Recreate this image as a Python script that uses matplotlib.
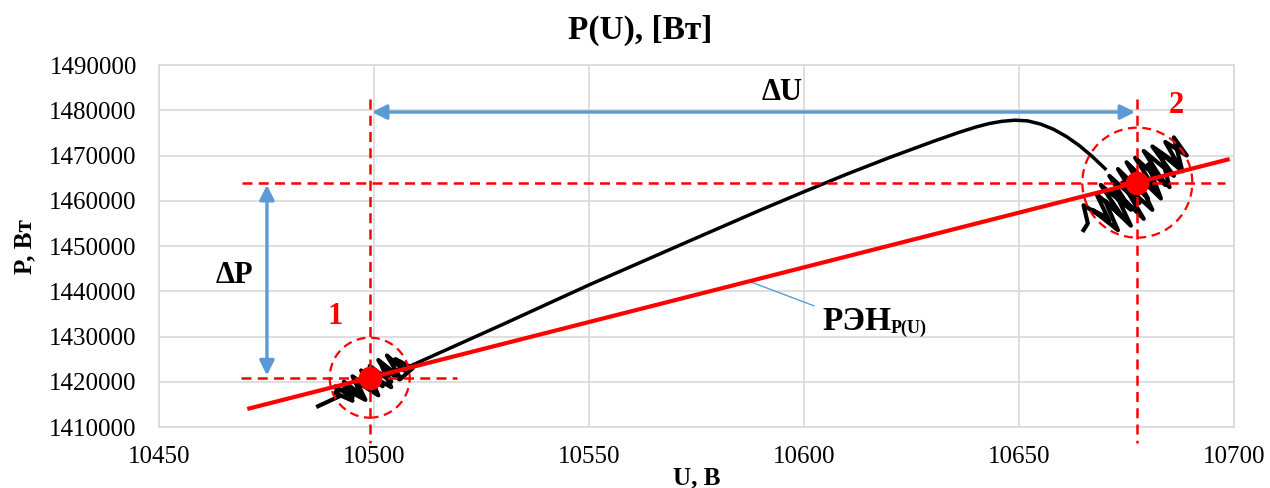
import matplotlib
matplotlib.use("Agg")
import matplotlib.pyplot as plt
from matplotlib.patches import Circle
from matplotlib.transforms import ScaledTranslation

plt.rcParams['font.family'] = ['Liberation Serif', 'DejaVu Serif']

# main P(U) curve between the two operating points
curve_u = [10497, 10508, 10530, 10550, 10575, 10590, 10600, 10610, 10620, 10630,
           10636, 10640, 10643, 10646, 10649, 10652, 10655, 10658, 10661, 10664,
           10667, 10670]
curve_p = [1420500, 1423300, 1432700, 1441400, 1451800, 1458000, 1462000, 1465900,
           1469600, 1473100, 1475100, 1476300, 1477050, 1477550, 1477800, 1477650,
           1476950, 1475800, 1474200, 1472200, 1469800, 1467100]

# noisy measurements around point 1
noise1_u = [10487, 10492, 10491, 10495, 10493, 10497, 10495, 10500, 10497, 10502,
            10499, 10504, 10501, 10506, 10503, 10507, 10505, 10509, 10506, 10502,
            10504, 10499, 10501, 10496, 10498, 10493, 10495, 10491]
noise1_p = [1414600, 1416800, 1419000, 1416500, 1420000, 1417200, 1421200, 1418000,
            1422500, 1419000, 1423500, 1420000, 1424800, 1421000, 1425800, 1422500,
            1425000, 1423000, 1420500, 1423000, 1418800, 1421500, 1417000, 1420000,
            1416000, 1418500, 1415800, 1417500]

# noisy measurements around point 2
noise2_u = [10665, 10666, 10665, 10671, 10668, 10674, 10669, 10676, 10671, 10678,
            10673, 10680, 10675, 10682, 10677, 10684, 10679, 10686, 10681, 10687,
            10684, 10689, 10686, 10688, 10683, 10685, 10680, 10683, 10677, 10681,
            10674, 10679, 10672, 10676, 10670, 10673, 10667, 10670]
noise2_p = [1453500, 1455000, 1459000, 1455500, 1461500, 1456500, 1463500, 1458000,
            1465500, 1459500, 1467000, 1460500, 1468500, 1462000, 1469500, 1463500,
            1471000, 1465500, 1472000, 1468000, 1473000, 1470000, 1474000, 1466500,
            1470500, 1463000, 1468000, 1460500, 1466000, 1458000, 1464000, 1456000,
            1462500, 1454500, 1460000, 1453500, 1458000, 1456500]

# regression line (РЭН)
reg_u = [10471, 10698.5]
reg_p = [1414100, 1469100]

# the two operating points
pt_u = [10499, 10677.5]
pt_p = [1420900, 1464000]

xticks = [10450, 10500, 10550, 10600, 10650, 10700]
yticks = [1410000, 1420000, 1430000, 1440000, 1450000, 1460000, 1470000, 1480000, 1490000]

RED = '#ff0000'
BLUE = '#5b9bd5'
GRID = '#d9d9d9'

fig = plt.figure(figsize=(12.7, 4.88), dpi=100)
ax = fig.add_axes([0.1252, 0.125, 0.8465, 0.7418])
ax.set_xlim(10450, 10700)
ax.set_ylim(1410000, 1490000)
ax.set_xticks(xticks)
ax.set_xticklabels([str(v) for v in xticks])
ax.set_yticks(yticks)
ax.set_yticklabels([str(v) for v in yticks])
ax.grid(True, color=GRID, lw=1.2)
ax.set_axisbelow(True)
for s in ax.spines.values():
    s.set_color(GRID)
    s.set_linewidth(1.2)
ax.tick_params(length=0, labelsize=18)
ax.tick_params(axis='y', pad=16)
ax.tick_params(axis='x', pad=14)

ax.plot(noise1_u, noise1_p, color='black', lw=3, solid_joinstyle='round', zorder=3)
ax.plot(noise2_u, noise2_p, color='black', lw=3, solid_joinstyle='round', zorder=3)
ax.plot(curve_u, curve_p, color='black', lw=2.5, solid_joinstyle='round', zorder=3)
ax.plot(reg_u, reg_p, color=RED, lw=3, zorder=4)

dash = dict(color=RED, lw=1.8, dashes=(4, 2.5), zorder=5)
# vertical dashed guides (extend under the axis)
for u in pt_u:
    ax.plot([u, u], [1482500, 1406500], clip_on=False, **dash)
# horizontal dashed guides
ax.plot([10469, 10519.3], [pt_p[0], pt_p[0]], **dash)
ax.plot([10469.3, 10698], [pt_p[1], pt_p[1]], **dash)

# dashed circles around points (radius in inches)
for u, p, r in zip(pt_u, pt_p, [0.40, 0.55]):
    tr = fig.dpi_scale_trans + ScaledTranslation(u, p, ax.transData)
    ax.add_patch(Circle((0, 0), r, transform=tr, fill=False, edgecolor=RED,
                        lw=1.6, ls=(0, (4, 2.5)), zorder=5))

ax.plot(pt_u, pt_p, 'o', color=RED, ms=16, zorder=6)

# ΔU and ΔP arrows
arrow = dict(arrowstyle='<|-|>', color=BLUE, lw=2.4, mutation_scale=22,
             shrinkA=0, shrinkB=0)
ax.annotate('', xy=(pt_u[0] + 0.5, 1479600), xytext=(pt_u[1] - 0.5, 1479600),
            arrowprops=arrow, zorder=6)
ax.annotate('', xy=(10475.1, pt_p[0] + 500), xytext=(10475.1, pt_p[1] - 500),
            arrowprops=arrow, zorder=6)
ax.text(10595, 1484000, 'ΔU', fontsize=22, fontweight='bold', ha='center', va='center')
ax.text(10467.5, 1443400, 'ΔP', fontsize=22, fontweight='bold', ha='center', va='center')

ax.text(10491, 1434500, '1', color=RED, fontsize=22, fontweight='bold',
        ha='center', va='center')
ax.text(10686.5, 1481000, '2', color=RED, fontsize=22, fontweight='bold',
        ha='center', va='center')

reg_label = ax.annotate('РЭН', xy=(10587, 1442280), xytext=(74, -41),
                        textcoords='offset pixels', fontsize=24, fontweight='bold',
                        ha='left', va='center',
                        arrowprops=dict(arrowstyle='-', color=BLUE, lw=1,
                                        shrinkA=4, shrinkB=0))
ax.annotate('P(U)', xy=(1, 0), xycoords=reg_label, fontsize=13, fontweight='bold',
            ha='left', va='bottom')

fig.text(0.504, 1 - 30 / 488, 'P(U), [Вт]', fontsize=24, fontweight='bold',
         ha='center', va='center')
fig.text(25 / 1270, 1 - 247 / 488, 'P, Вт', fontsize=18, fontweight='bold',
         rotation=90, ha='center', va='center')
fig.text(697 / 1270, 1 - 478 / 488, 'U, В', fontsize=18, fontweight='bold',
         ha='center', va='center')

fig.savefig('out.png', dpi=100)
